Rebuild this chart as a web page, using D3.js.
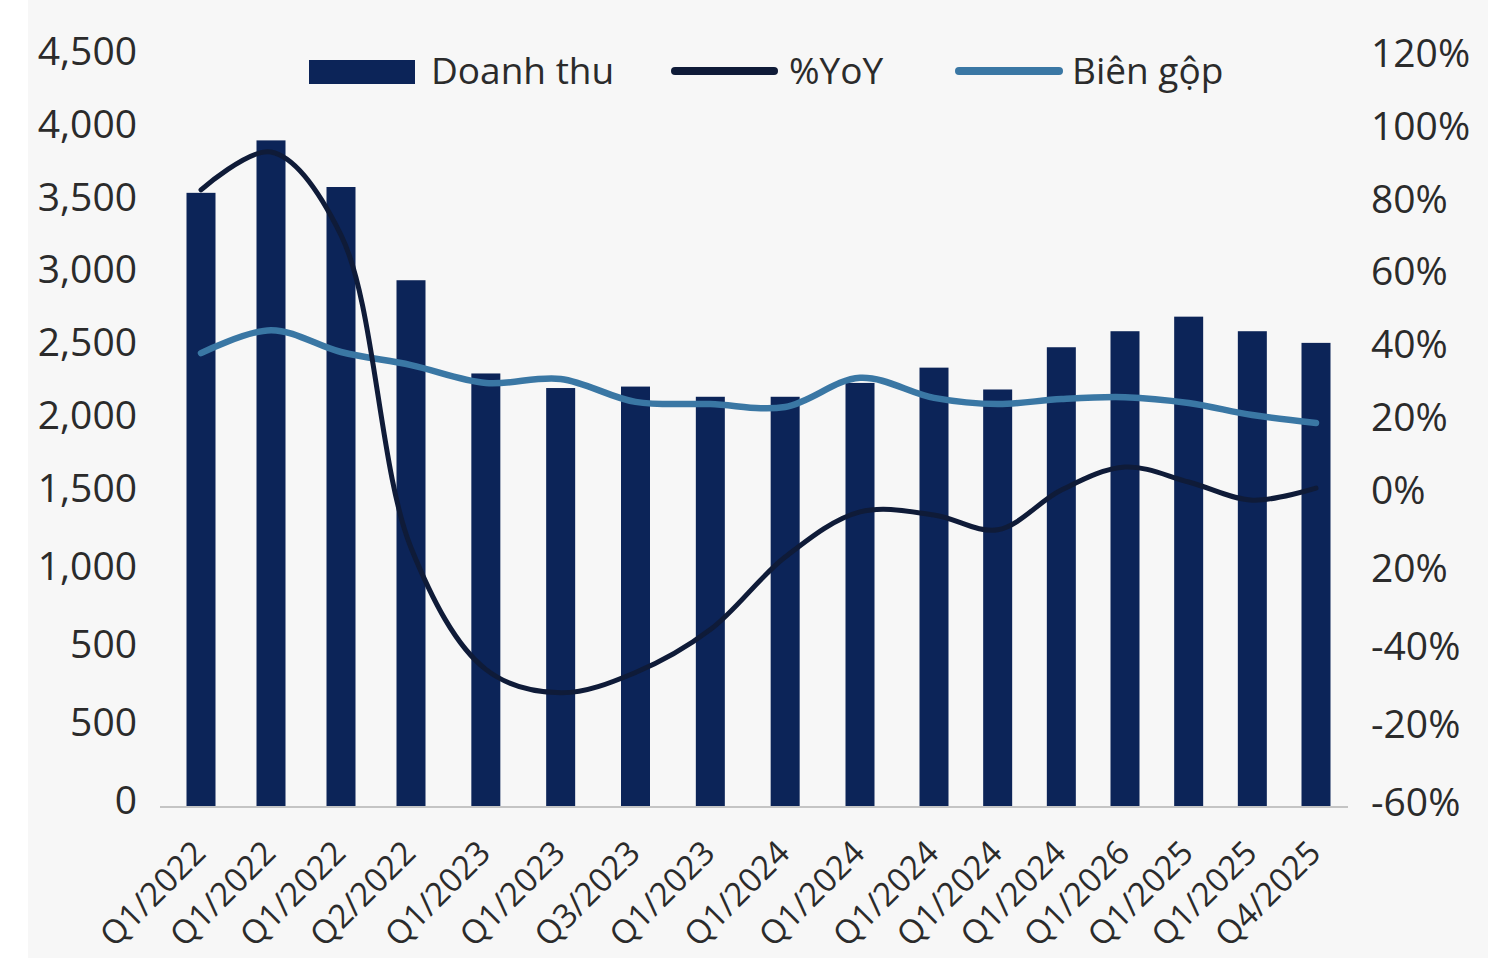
<!DOCTYPE html>
<html>
<head>
<meta charset="utf-8">
<script src="https://cdn.jsdelivr.net/npm/d3@7"></script>
<style>
  html, body { margin: 0; padding: 0; background: #ffffff; }
  svg { display: block; }
  text { font-family: "Open Sans", "Noto Sans", sans-serif; fill: #2b2b2b; }
</style>
</head>
<body>
<svg id="chart" width="1488" height="958"></svg>
<script>
// ---------- data ----------
const categories = ["Q1/2022","Q1/2022","Q1/2022","Q2/2022","Q1/2023","Q1/2023","Q3/2023","Q1/2023",
  "Q1/2024","Q1/2024","Q1/2024","Q1/2024","Q1/2024","Q1/2026","Q1/2025","Q1/2025","Q4/2025"];
const doanhThu = [3540, 3900, 3580, 2940, 2300, 2200, 2210, 2140, 2140, 2235, 2340, 2190, 2480, 2590, 2690, 2590, 2510];
const yoy      = [82.4, 92.8, 70.0, -14.8, -46.0, -52.0, -46.8, -35.8, -17.2, -5.6, -6.4, -10.2, 0.0, 6.3, 2.2, -2.6, 0.5];
const bienGop  = [37.6, 43.9, 37.9, 34.3, 29.4, 30.5, 24.2, 23.6, 22.8, 30.8, 25.3, 23.6, 25.0, 25.5, 23.9, 20.6, 18.4];
const leftTickValues  = [-500, 0, 500, 1000, 1500, 2000, 2500, 3000, 3500, 4000, 4500];
const leftTickLabels  = ["0","500","500","1,000","1,500","2,000","2,500","3,000","3,500","4,000","4,500"];
const rightTickValues = [-80, -60, -40, -20, 0, 20, 40, 60, 80, 100, 120];
const rightTickLabels = ["-60%","-20%","-40%","20%","0%","20%","40%","60%","80%","100%","120%"];
const seriesNames = ["Doanh thu", "%YoY", "Biên gộp"];

// ---------- layout ----------
const W = 1488, H = 958;
const plotLeft = 160, plotRight = 1348;
const yBottom = 802, yMid = 490, yTop = 53, yBase = 807;
const colBar = "#0c2458", colYoy = "#0f1b38", colGop = "#3a77a4";

const svg = d3.select("#chart");
svg.append("rect").attr("x", 28).attr("y", 0).attr("width", W - 28).attr("height", H).attr("fill", "#f7f7f7");

const idx = d3.range(categories.length);
// category positions (the source chart's spacing is slightly uneven)
const x = d3.scaleLinear().domain([0, 3, 9, 10, categories.length - 1]).range([201, 411, 860, 934, 1316]);
const barW = 29;

const yL = d3.scaleLinear().domain([-500, 1500, 4500]).range([yBottom, yMid, yTop]);
const yR = d3.scaleLinear().domain([-80, 0, 120]).range([yBottom, yMid, yTop]);

// bars
svg.append("g").selectAll("rect").data(idx).join("rect")
  .attr("x", i => x(i) - barW / 2)
  .attr("y", i => yL(doanhThu[i]))
  .attr("width", barW)
  .attr("height", i => yBase - yL(doanhThu[i]))
  .attr("fill", colBar);

// baseline axis
svg.append("line").attr("x1", plotLeft).attr("x2", plotRight)
  .attr("y1", yBase).attr("y2", yBase)
  .attr("stroke", "#c4c4c4").attr("stroke-width", 2);

// lines
const curve = d3.curveCatmullRom.alpha(0.5);
const lineYoy = d3.line().x(i => x(i)).y(i => yR(yoy[i])).curve(curve);
const lineGop = d3.line().x(i => x(i)).y(i => yR(bienGop[i])).curve(curve);
svg.append("path").attr("d", lineGop(idx)).attr("fill", "none")
  .attr("stroke", colGop).attr("stroke-width", 6.5).attr("stroke-linecap", "round").attr("stroke-linejoin", "round");
svg.append("path").attr("d", lineYoy(idx)).attr("fill", "none")
  .attr("stroke", colYoy).attr("stroke-width", 5).attr("stroke-linecap", "round").attr("stroke-linejoin", "round");

// left axis
const axL = d3.axisLeft(yL).tickValues(leftTickValues)
  .tickFormat((d, i) => leftTickLabels[i]).tickSize(0).tickPadding(0);
const gL = svg.append("g").attr("transform", "translate(137,-1)").call(axL);
gL.select(".domain").remove();
gL.selectAll("text").style("font-size", "39px").attr("fill", "#2b2b2b")
  .style("font-family", "'Open Sans', sans-serif");

// right axis
const axR = d3.axisRight(yR).tickValues(rightTickValues)
  .tickFormat((d, i) => rightTickLabels[i]).tickSize(0).tickPadding(0);
const gR = svg.append("g").attr("transform", "translate(1371,1)").call(axR);
gR.select(".domain").remove();
gR.selectAll("text").style("font-size", "39px").attr("fill", "#2b2b2b")
  .style("font-family", "'Open Sans', sans-serif");

// x axis labels
const axX = d3.axisBottom(x).tickValues(idx).tickFormat(i => categories[i]).tickSize(0).tickPadding(0);
const gX = svg.append("g").attr("transform", `translate(0,${yBase})`).call(axX);
gX.select(".domain").remove();
gX.selectAll("text")
  .style("font-size", "33px").attr("fill", "#2b2b2b")
  .style("font-family", "'Open Sans', sans-serif")
  .attr("text-anchor", "end")
  .attr("dy", null).attr("y", 0)
  .attr("transform", "translate(6,48) rotate(-45)");

// legend
const lg = svg.append("g");
lg.append("rect").attr("x", 309).attr("y", 60).attr("width", 106).attr("height", 24).attr("fill", colBar);
lg.append("text").attr("x", 431).attr("y", 84).text(seriesNames[0]).style("font-size", "37px");
lg.append("line").attr("x1", 675).attr("x2", 774).attr("y1", 71).attr("y2", 71)
  .attr("stroke", colYoy).attr("stroke-width", 8).attr("stroke-linecap", "round");
lg.append("text").attr("x", 789).attr("y", 84).text(seriesNames[1]).style("font-size", "37px");
lg.append("line").attr("x1", 959).attr("x2", 1059).attr("y1", 71).attr("y2", 71)
  .attr("stroke", colGop).attr("stroke-width", 8).attr("stroke-linecap", "round");
lg.append("text").attr("x", 1072).attr("y", 84).text(seriesNames[2]).style("font-size", "37px");
</script>
</body>
</html>
